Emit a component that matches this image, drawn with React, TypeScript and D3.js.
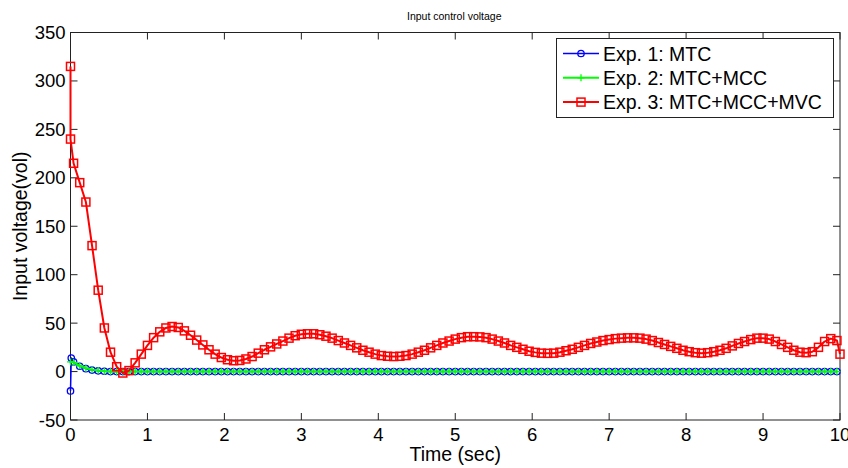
import React, { useEffect, useRef } from 'react';
import * as d3 from 'd3';

// sample times shared by the three experiments (sec)
const timeGrid = [
  0.04, 0.12, 0.2, 0.28, 0.36, 0.44, 0.52, 0.6, 0.68, 0.76,
  0.84, 0.92, 1.0, 1.08, 1.16, 1.24, 1.32, 1.4, 1.48, 1.56,
  1.64, 1.72, 1.8, 1.88, 1.96, 2.04, 2.12, 2.2, 2.28, 2.36,
  2.44, 2.52, 2.6, 2.68, 2.76, 2.84, 2.92, 3.0, 3.08, 3.16,
  3.24, 3.32, 3.4, 3.48, 3.56, 3.64, 3.72, 3.8, 3.88, 3.96,
  4.04, 4.12, 4.2, 4.28, 4.36, 4.44, 4.52, 4.6, 4.68, 4.76,
  4.84, 4.92, 5.0, 5.08, 5.16, 5.24, 5.32, 5.4, 5.48, 5.56,
  5.64, 5.72, 5.8, 5.88, 5.96, 6.04, 6.12, 6.2, 6.28, 6.36,
  6.44, 6.52, 6.6, 6.68, 6.76, 6.84, 6.92, 7.0, 7.08, 7.16,
  7.24, 7.32, 7.4, 7.48, 7.56, 7.64, 7.72, 7.8, 7.88, 7.96,
  8.04, 8.12, 8.2, 8.28, 8.36, 8.44, 8.52, 8.6, 8.68, 8.76,
  8.84, 8.92, 9.0, 9.08, 9.16, 9.24, 9.32, 9.4, 9.48, 9.56,
  9.64, 9.72, 9.8, 9.88, 9.96
];

// Exp. 1: MTC
const mtcStart = [[0, -20], [0.01, 14]];
const mtcValues = [
  10, 5.5, 3, 1.5, 0.8, 0.3, 0, 0, 0, 0,
  0, 0, 0, 0, 0, 0, 0, 0, 0, 0,
  0, 0, 0, 0, 0, 0, 0, 0, 0, 0,
  0, 0, 0, 0, 0, 0, 0, 0, 0, 0,
  0, 0, 0, 0, 0, 0, 0, 0, 0, 0,
  0, 0, 0, 0, 0, 0, 0, 0, 0, 0,
  0, 0, 0, 0, 0, 0, 0, 0, 0, 0,
  0, 0, 0, 0, 0, 0, 0, 0, 0, 0,
  0, 0, 0, 0, 0, 0, 0, 0, 0, 0,
  0, 0, 0, 0, 0, 0, 0, 0, 0, 0,
  0, 0, 0, 0, 0, 0, 0, 0, 0, 0,
  0, 0, 0, 0, 0, 0, 0, 0, 0, 0,
  0, 0, 0, 0, 0
];

// Exp. 2: MTC+MCC
const mccStart = [[0, 10]];
const mccValues = [
  9.5, 6, 3.5, 2, 1, 0.4, 0, 0, 0, 0,
  0, 0, 0, 0, 0, 0, 0, 0, 0, 0,
  0, 0, 0, 0, 0, 0, 0, 0, 0, 0,
  0, 0, 0, 0, 0, 0, 0, 0, 0, 0,
  0, 0, 0, 0, 0, 0, 0, 0, 0, 0,
  0, 0, 0, 0, 0, 0, 0, 0, 0, 0,
  0, 0, 0, 0, 0, 0, 0, 0, 0, 0,
  0, 0, 0, 0, 0, 0, 0, 0, 0, 0,
  0, 0, 0, 0, 0, 0, 0, 0, 0, 0,
  0, 0, 0, 0, 0, 0, 0, 0, 0, 0,
  0, 0, 0, 0, 0, 0, 0, 0, 0, 0,
  0, 0, 0, 0, 0, 0, 0, 0, 0, 0,
  0, 0, 0, 0, 0
];

// Exp. 3: MTC+MCC+MVC
const mvcStart = [[0, 315], [0, 240]];
const mvcValues = [
  215, 195, 175, 130, 84, 45, 20, 5, -1.5, 1,
  9, 18, 27, 35, 41, 45, 46.5, 45.5, 42, 37.5,
  32.5, 27.5, 22.5, 18, 14.5, 12.2, 11.2, 11.5, 13, 15.5,
  19, 22.5, 25.5, 28.5, 31.5, 34.5, 37, 38.5, 39, 39,
  38, 36.5, 34.5, 32, 29.5, 27, 24.5, 22, 20, 18,
  16.5, 15.8, 15.5, 15.8, 16.5, 18, 20, 22, 24.5, 27,
  29.5, 31.5, 33.5, 35, 36, 36, 35.8, 35, 33.5, 31.5,
  29.5, 27, 25, 23, 21, 19.8, 19, 18.8, 19, 20,
  21.5, 23, 25, 27, 29, 30.5, 32, 33, 34, 34.5,
  34.8, 34.8, 34.5, 33.5, 32, 30, 28, 26, 24, 22,
  20.5, 19.5, 19, 19.5, 20.5, 22, 24, 26.5, 29, 31,
  33, 34.5, 34.5, 33.5, 31, 28, 25, 22, 20, 19.5,
  20.5, 25, 31, 34, 32
];
const mvcEnd = [[10, 18]];

const legendLabels = ['Exp. 1: MTC', 'Exp. 2: MTC+MCC', 'Exp. 3: MTC+MCC+MVC'];
const xTicks = [0, 1, 2, 3, 4, 5, 6, 7, 8, 9, 10];
const yTicks = [-50, 0, 50, 100, 150, 200, 250, 300, 350];

const font = '"Liberation Sans", Arial, sans-serif';

function App() {
  const ref = useRef<SVGSVGElement>(null);

  useEffect(() => {
    const width = 848, height = 468;
    const margin = { top: 32.5, right: 8, bottom: 48, left: 70.5 };

    const svg = d3.select(ref.current);
    svg.selectAll('*').remove();

    const x = d3.scaleLinear().domain([0, 10]).range([margin.left, width - margin.right]);
    const y = d3.scaleLinear().domain([-50, 350]).range([height - margin.bottom, margin.top]);

    const grid = (vals: number[]) => vals.map((v, i) => [timeGrid[i], v]);

    const series = [
      { name: legendLabels[0], data: [...mtcStart, ...grid(mtcValues)], color: '#0000ff', width: 1.5, marker: 'circle' },
      { name: legendLabels[1], data: [...mccStart, ...grid(mccValues)], color: '#00ff00', width: 2, marker: 'plus' },
      { name: legendLabels[2], data: [...mvcStart, ...grid(mvcValues), ...mvcEnd], color: '#ff0000', width: 2, marker: 'square' }
    ];

    const line = d3.line<number[]>()
      .x(d => x(d[0]))
      .y(d => y(d[1]));

    const drawMarker = (g: any, kind: string, cx: number, cy: number, color: string) => {
      if (kind === 'circle') {
        g.append('circle').attr('cx', cx).attr('cy', cy).attr('r', 3.2)
          .attr('fill', 'none').attr('stroke', color).attr('stroke-width', 1.3);
      } else if (kind === 'plus') {
        g.append('path').attr('d', `M${cx - 3.5},${cy}H${cx + 3.5}M${cx},${cy - 3.5}V${cy + 3.5}`)
          .attr('stroke', color).attr('stroke-width', 1.3);
      } else {
        g.append('rect').attr('x', cx - 4).attr('y', cy - 4).attr('width', 8).attr('height', 8)
          .attr('fill', 'none').attr('stroke', color).attr('stroke-width', 1.5);
      }
    };

    // axes box with inward ticks
    const axisColor = '#222';
    const x0 = margin.left, x1 = width - margin.right, y0 = height - margin.bottom, y1 = margin.top;
    svg.append('rect')
      .attr('x', x0).attr('y', y1).attr('width', x1 - x0).attr('height', y0 - y1)
      .attr('fill', 'none').attr('stroke', axisColor).attr('stroke-width', 1);

    const ticks = svg.append('g').attr('stroke', axisColor).attr('stroke-width', 1);
    xTicks.forEach(t => {
      ticks.append('line').attr('x1', x(t)).attr('x2', x(t)).attr('y1', y0).attr('y2', y0 - 7);
      ticks.append('line').attr('x1', x(t)).attr('x2', x(t)).attr('y1', y1).attr('y2', y1 + 7);
    });
    yTicks.forEach(t => {
      ticks.append('line').attr('x1', x0).attr('x2', x0 + 7).attr('y1', y(t)).attr('y2', y(t));
      ticks.append('line').attr('x1', x1).attr('x2', x1 - 7).attr('y1', y(t)).attr('y2', y(t));
    });

    svg.append('g').selectAll('text').data(xTicks).enter().append('text')
      .attr('x', d => x(d)).attr('y', y0 + 21)
      .attr('text-anchor', 'middle')
      .style('font-family', font).style('font-size', '18.5px')
      .text(d => d);

    svg.append('g').selectAll('text').data(yTicks).enter().append('text')
      .attr('x', x0 - 5).attr('y', d => y(d) + 6.5)
      .attr('text-anchor', 'end')
      .style('font-family', font).style('font-size', '18.5px')
      .text(d => d);

    // data
    series.forEach(s => {
      const g = svg.append('g');
      g.append('path')
        .attr('d', line(s.data as number[][]))
        .attr('fill', 'none')
        .attr('stroke', s.color)
        .attr('stroke-width', s.width)
        .attr('stroke-linejoin', 'round');
      s.data.forEach(d => drawMarker(g, s.marker, x(d[0]), y(d[1]), s.color));
    });

    // labels
    svg.append('text')
      .attr('x', (x0 + x1) / 2 - 1).attr('y', 20)
      .attr('text-anchor', 'middle')
      .style('font-family', font).style('font-size', '10.5px')
      .text('Input control voltage');

    svg.append('text')
      .attr('x', (x0 + x1) / 2).attr('y', 461)
      .attr('text-anchor', 'middle')
      .style('font-family', font).style('font-size', '19.5px')
      .text('Time (sec)');

    svg.append('text')
      .attr('transform', `translate(27,${(y0 + y1) / 2}) rotate(-90)`)
      .attr('text-anchor', 'middle')
      .style('font-family', font).style('font-size', '19.5px')
      .text('Input voltage(vol)');

    // legend
    const legend = svg.append('g');
    legend.append('rect')
      .attr('x', 556.5).attr('y', 38.5).attr('width', 277).attr('height', 79)
      .attr('fill', '#fff').attr('stroke', axisColor).attr('stroke-width', 1);
    series.forEach((s, i) => {
      const ly = 53.5 + i * 24.3;
      legend.append('line')
        .attr('x1', 563).attr('x2', 599).attr('y1', ly).attr('y2', ly)
        .attr('stroke', s.color).attr('stroke-width', s.width);
      drawMarker(legend, s.marker, 581, ly, s.color);
      legend.append('text')
        .attr('x', 603).attr('y', ly + 7)
        .style('font-family', font).style('font-size', '19.5px')
        .text(s.name);
    });
  }, []);

  return (
    <svg ref={ref} width={848} height={468}
      style={{ position: 'absolute', left: 0, top: 0, background: '#fff' }} />
  );
}

export default App;
